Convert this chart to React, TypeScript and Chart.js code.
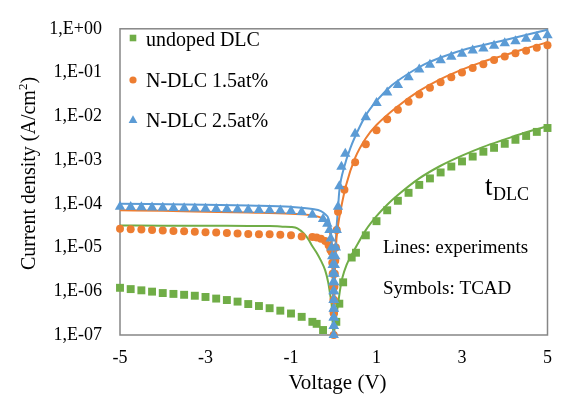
import React, { useEffect, useRef } from 'react';
import { Chart, registerables } from 'chart.js';

Chart.register(...registerables);

const FONT = '"Liberation Serif", "Times New Roman", serif';

// Axis ticks
const xTickValues = [-5, -3, -1, 1, 3, 5];
const yTickValues = [1e-7, 1e-6, 1e-5, 1e-4, 1e-3, 1e-2, 1e-1, 1];
const yTickLabels = ['1,E-07', '1,E-06', '1,E-05', '1,E-04', '1,E-03', '1,E-02', '1,E-01', '1,E+00'];

const seriesNames = ['undoped DLC', 'N-DLC 1.5at%', 'N-DLC 2.5at%'];
const seriesColors = ['#70AD47', '#ED7D31', '#5B9BD5'];

// ---- Symbols: TCAD ----
const undopedSymV = [-5, -4.75, -4.5, -4.25, -4, -3.75, -3.5, -3.25, -3, -2.75, -2.5, -2.25, -2, -1.75, -1.5, -1.25, -1, -0.75, -0.5, -0.4, -0.25,
  0.06, 0.13, 0.22, 0.42, 0.52, 0.75, 1, 1.25, 1.5, 1.75, 2, 2.25, 2.5, 2.75, 3, 3.25, 3.5, 3.75, 4, 4.25, 4.5, 4.75, 5];
const undopedSymJ = [1.2e-6, 1.12e-6, 1.05e-6, 9.8e-7, 9.1e-7, 8.7e-7, 8.3e-7, 7.9e-7, 7.4e-7, 6.8e-7, 6.3e-7, 5.8e-7, 5.1e-7, 4.6e-7, 4.1e-7, 3.6e-7, 3.1e-7, 2.6e-7, 2.0e-7, 1.8e-7, 1.3e-7,
  2.0e-7, 5.2e-7, 1.6e-6, 5.9e-6, 7.6e-6, 1.9e-5, 4.0e-5, 7.1e-5, 1.17e-4, 1.78e-4, 2.7e-4, 3.8e-4, 5.2e-4, 7.1e-4, 9.3e-4, 1.2e-3, 1.55e-3, 1.9e-3, 2.35e-3, 2.9e-3, 3.55e-3, 4.4e-3, 5.4e-3];

const n15SymV = [-5, -4.75, -4.5, -4.25, -4, -3.75, -3.5, -3.25, -3, -2.75, -2.5, -2.25, -2, -1.75, -1.5, -1.25, -1, -0.75, -0.5, -0.4, -0.3, -0.2, -0.12, -0.08,
  -0.05, -0.035, -0.025, -0.015, -0.008, -0.004, 0, 0.004, 0.008, 0.015, 0.025, 0.035, 0.05, 0.07, 0.1, 0.25,
  0.5, 0.75, 1, 1.25, 1.5, 1.75, 2, 2.25, 2.5, 2.75, 3, 3.25, 3.5, 3.75, 4, 4.25, 4.5, 4.75, 5];
const n15SymJ = [2.7e-5, 2.63e-5, 2.57e-5, 2.5e-5, 2.45e-5, 2.4e-5, 2.34e-5, 2.3e-5, 2.24e-5, 2.19e-5, 2.14e-5, 2.09e-5, 2.04e-5, 2.0e-5, 2.0e-5, 1.95e-5, 1.9e-5, 1.78e-5, 1.74e-5, 1.7e-5, 1.58e-5, 1.41e-5, 1.12e-5, 8.9e-6,
  7.9e-6, 4.5e-6, 2.5e-6, 1.26e-6, 6.3e-7, 3.2e-7, 1.0e-7, 3.2e-7, 6.3e-7, 1.26e-6, 2.5e-6, 5.0e-6, 1.0e-5, 2.5e-5, 6.6e-5, 2.1e-4,
  8.9e-4, 2.3e-3, 4.8e-3, 8.5e-3, 1.41e-2, 2.14e-2, 3.16e-2, 4.47e-2, 6.0e-2, 7.8e-2, 0.1, 0.127, 0.155, 0.193, 0.234, 0.275, 0.316, 0.37, 0.42];

const n25SymV = [-5, -4.75, -4.5, -4.25, -4, -3.75, -3.5, -3.25, -3, -2.75, -2.5, -2.25, -2, -1.75, -1.5, -1.25, -1, -0.75, -0.5, -0.25, -0.15,
  -0.1, -0.07, -0.05, -0.035, -0.025, -0.018, -0.012, -0.008, -0.005, -0.003, -0.0015, -0.0005, 0,
  0.0005, 0.0015, 0.003, 0.005, 0.008, 0.012, 0.018, 0.025, 0.035, 0.05, 0.07, 0.1, 0.13, 0.18, 0.27,
  0.5, 0.75, 1, 1.25, 1.5, 1.75, 2, 2.25, 2.5, 2.75, 3, 3.25, 3.5, 3.75, 4, 4.25, 4.5, 4.75, 5];
const n25SymJ = [8.5e-5, 8.4e-5, 8.3e-5, 8.2e-5, 8.1e-5, 8.0e-5, 7.9e-5, 7.8e-5, 7.7e-5, 7.6e-5, 7.5e-5, 7.4e-5, 7.3e-5, 7.2e-5, 7.1e-5, 7.0e-5, 6.8e-5, 6.5e-5, 5.6e-5, 4.5e-5, 3.5e-5,
  2.5e-5, 1.6e-5, 1.0e-5, 6.3e-6, 4.0e-6, 2.5e-6, 1.6e-6, 1.0e-6, 6.3e-7, 4.0e-7, 2.5e-7, 1.6e-7, 1.0e-7,
  1.6e-7, 2.5e-7, 4.0e-7, 6.3e-7, 1.0e-6, 1.6e-6, 2.5e-6, 4.0e-6, 6.3e-6, 1.0e-5, 2.5e-5, 8.5e-5, 2.5e-4, 7.0e-4, 1.4e-3,
  4.0e-3, 9.5e-3, 2.0e-2, 3.5e-2, 5.2e-2, 7.8e-2, 0.117, 0.15, 0.19, 0.23, 0.27, 0.32, 0.355, 0.41, 0.47, 0.52, 0.59, 0.65, 0.71];

// ---- Lines: experiments ----
const undopedExpV = [-5, -4, -3, -2, -1.5, -1.2, -1, -0.85, -0.7, -0.6, -0.5, -0.4, -0.3, -0.2, -0.13, -0.08, -0.05, -0.02, 0,
  0.03, 0.07, 0.1, 0.15, 0.2, 0.3, 0.4, 0.5, 0.75, 1, 1.25, 1.5, 2, 2.5, 3, 3.5, 4, 4.5, 5];
const undopedExpJ = [3.2e-5, 3.16e-5, 3.16e-5, 3.1e-5, 3.1e-5, 3.0e-5, 2.95e-5, 2.75e-5, 2.1e-5, 1.58e-5, 1.07e-5, 7.6e-6, 5.0e-6, 3.0e-6, 1.6e-6, 8.0e-7, 5.0e-7, 1.58e-7, 1.0e-7,
  1.78e-7, 3.16e-7, 5.0e-7, 1.12e-6, 2.0e-6, 4.0e-6, 6.3e-6, 9.5e-6, 2.5e-5, 5.2e-5, 9.5e-5, 1.58e-4, 3.8e-4, 7.4e-4, 1.26e-3, 2.0e-3, 2.95e-3, 4.3e-3, 5.9e-3];

const n15ExpV = [-5, -4, -3, -2, -1, -0.5, -0.3, -0.2, -0.1, -0.05, -0.02, 0, 0.02, 0.05, 0.1, 0.17, 0.29, 0.5, 0.75, 1, 1.5, 2, 2.5, 3, 3.5, 4, 4.5, 5];
const n15ExpJ = [7.1e-5, 6.9e-5, 6.6e-5, 6.3e-5, 5.9e-5, 5.4e-5, 4.8e-5, 4.0e-5, 2.5e-5, 1.0e-5, 1.58e-6, 1.0e-7, 1.58e-6, 1.0e-5, 3.16e-5, 7.9e-5, 2.7e-4, 1.12e-3, 3.16e-3, 6.3e-3, 1.7e-2, 3.8e-2, 7.1e-2, 0.117, 0.178, 0.25, 0.355, 0.49];

const n25ExpV = [-5, -3, -2, -1, -0.5, -0.3, -0.2, -0.12, -0.07, -0.04, -0.02, 0, 0.02, 0.05, 0.1, 0.13, 0.25, 0.4, 0.56, 0.75, 1, 1.36, 1.75, 2.13, 2.55, 3.12, 3.89, 4.66, 5];
const n25ExpJ = [1.0e-4, 9.5e-5, 9.1e-5, 8.5e-5, 7.6e-5, 6.8e-5, 5.75e-5, 4.5e-5, 2.5e-5, 1.0e-5, 2.0e-6, 1.0e-7, 2.5e-6, 1.58e-5, 7.9e-5, 1.95e-4, 7.2e-4, 2.0e-3, 4.6e-3, 1.05e-2, 2.24e-2, 5.1e-2, 9.5e-2, 0.155, 0.23, 0.35, 0.52, 0.79, 0.95];

const pair = (xs: number[], ys: number[]) => xs.map((x, i) => ({ x, y: ys[i] }));

const font = (size: number) => `${size}px ${FONT}`;

const overlayPlugin = {
  id: 'overlay',
  beforeDatasetsDraw(chart: any) {
    const { ctx, chartArea: a } = chart;
    ctx.save();
    ctx.strokeStyle = '#868686';
    ctx.lineWidth = 1.5;
    ctx.strokeRect(a.left, a.top, a.right - a.left, a.bottom - a.top);
    ctx.restore();
  },
  afterDraw(chart: any) {
    const { ctx } = chart;
    ctx.save();
    ctx.fillStyle = '#000';
    ctx.textBaseline = 'alphabetic';

    // X axis title
    ctx.font = font(21);
    ctx.textAlign = 'center';
    ctx.fillText('Voltage (V)', 337.5, 389);

    // Y axis title (rotated) with superscript
    ctx.save();
    ctx.translate(35, 173.5);
    ctx.rotate(-Math.PI / 2);
    ctx.textAlign = 'left';
    const main = 'Current density (A/cm';
    ctx.font = font(20);
    const w1 = ctx.measureText(main).width;
    const w3 = ctx.measureText(')').width;
    ctx.font = font(13);
    const w2 = ctx.measureText('2').width;
    const total = w1 + w2 + w3;
    let sx = -total / 2;
    ctx.font = font(20);
    ctx.fillText(main, sx, 0);
    sx += w1;
    ctx.font = font(13);
    ctx.fillText('2', sx, -8);
    sx += w2;
    ctx.font = font(20);
    ctx.fillText(')', sx, 0);
    ctx.restore();

    // Legend (symbols only)
    const rows = [46, 87, 127];
    const marks = [38, 80, 120];
    ctx.font = font(20);
    ctx.textAlign = 'left';
    seriesNames.forEach((name, i) => {
      ctx.fillStyle = '#000';
      ctx.fillText(name, 146, rows[i]);
      ctx.fillStyle = seriesColors[i];
      const cx = 133, cy = marks[i];
      ctx.beginPath();
      if (i === 0) {
        ctx.rect(cx - 3.3, cy - 3.3, 6.6, 6.6);
      } else if (i === 1) {
        ctx.arc(cx, cy, 3.6, 0, Math.PI * 2);
      } else {
        ctx.moveTo(cx, cy - 4.8);
        ctx.lineTo(cx + 4.4, cy + 3);
        ctx.lineTo(cx - 4.4, cy + 3);
        ctx.closePath();
      }
      ctx.fill();
    });

    // Annotations
    ctx.fillStyle = '#000';
    ctx.font = font(19);
    ctx.fillText('Lines: experiments', 383, 253);
    ctx.fillText('Symbols: TCAD', 383, 294);

    ctx.font = font(27);
    ctx.fillText('t', 485, 195);
    const tw = ctx.measureText('t').width;
    ctx.font = font(18);
    ctx.fillText('DLC', 485 + tw + 0.5, 200);

    ctx.restore();
  },
};

export default function App() {
  const ref = useRef<HTMLCanvasElement | null>(null);

  useEffect(() => {
    if (!ref.current) return;
    const lineDs = (data: any[], color: string) => ({
      type: 'scatter' as const,
      data,
      showLine: true,
      borderColor: color,
      backgroundColor: color,
      borderWidth: 2,
      pointRadius: 0,
      cubicInterpolationMode: 'monotone' as const,
      clip: false as any,
      order: 5,
    });
    const symDs = (data: any[], color: string, style: string, radius: number, order: number) => ({
      type: 'scatter' as const,
      data,
      showLine: false,
      pointStyle: style,
      pointRadius: radius,
      pointBackgroundColor: color,
      pointBorderColor: color,
      pointBorderWidth: 0,
      backgroundColor: color,
      borderColor: color,
      clip: false as any,
      order,
    });

    const chart = new Chart(ref.current, {
      type: 'scatter',
      data: {
        datasets: [
          lineDs(pair(undopedExpV, undopedExpJ), seriesColors[0]),
          lineDs(pair(n15ExpV, n15ExpJ), seriesColors[1]),
          lineDs(pair(n25ExpV, n25ExpJ), seriesColors[2]),
          symDs(pair(undopedSymV, undopedSymJ), seriesColors[0], 'rect', 5.6, 3),
          symDs(pair(n15SymV, n15SymJ), seriesColors[1], 'circle', 4, 2),
          symDs(pair(n25SymV, n25SymJ), seriesColors[2], 'triangle', 6, 1),
        ] as any,
      },
      options: {
        responsive: false,
        animation: false,
        layout: { padding: { left: 0, right: 9, top: 12, bottom: 0 } },
        plugins: {
          legend: { display: false },
          tooltip: { enabled: false },
        },
        scales: {
          x: {
            type: 'linear',
            min: -5,
            max: 5,
            grid: { display: false, drawTicks: false },
            border: { display: false },
            afterFit: (s: any) => { s.height = 62; },
            afterBuildTicks: (s: any) => { s.ticks = xTickValues.map((v) => ({ value: v })); },
            ticks: {
              padding: 12,
              color: '#000',
              font: { family: FONT, size: 18 },
              autoSkip: false,
              maxRotation: 0,
              callback: (v: any) => String(v),
            },
          },
          y: {
            type: 'logarithmic',
            min: 1e-7,
            max: 1,
            grid: { display: false, drawTicks: false },
            border: { display: false },
            afterFit: (s: any) => { s.width = 120; },
            afterBuildTicks: (s: any) => { s.ticks = yTickValues.map((v) => ({ value: v })); },
            ticks: {
              padding: 18,
              color: '#000',
              font: { family: FONT, size: 18 },
              autoSkip: false,
              callback: (v: any) => {
                const i = yTickValues.findIndex((t) => Math.abs(Math.log10(t) - Math.log10(v)) < 1e-6);
                return i >= 0 ? yTickLabels[i] : '';
              },
            },
          },
        },
      },
      plugins: [overlayPlugin],
    });
    return () => chart.destroy();
  }, []);

  return (
    <div style={{ position: 'fixed', left: 0, top: 0, width: 564, height: 397, background: '#fff' }}>
      <canvas ref={ref} width={564} height={397} style={{ width: 564, height: 397, display: 'block' }} />
    </div>
  );
}
